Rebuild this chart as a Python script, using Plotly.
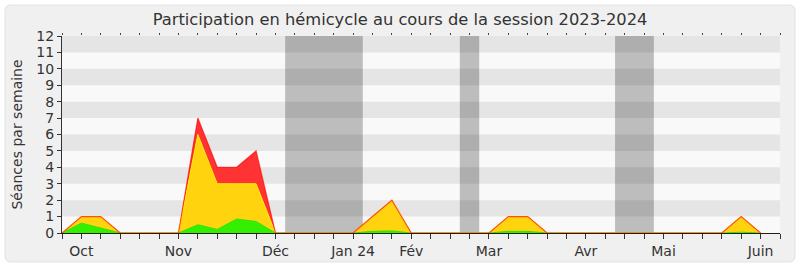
import plotly.graph_objects as go

weeks = list(range(37))
# stacked components per week
green = [0, 0.6, 0.3, 0, 0, 0, 0, 0.5, 0.22, 0.85, 0.7, 0,
         0, 0, 0, 0, 0.1, 0.13, 0, 0, 0, 0, 0, 0.1, 0.1, 0,
         0, 0, 0, 0, 0, 0, 0, 0, 0, 0.05, 0]
yellow_top = [0, 1, 1, 0, 0, 0, 0, 6, 3, 3, 3, 0,
              0, 0, 0, 0, 1, 2, 0, 0, 0, 0, 0, 1, 1, 0,
              0, 0, 0, 0, 0, 0, 0, 0, 0, 1, 0]
total = [0, 1, 1, 0, 0, 0, 0, 7, 4, 4, 5, 0,
         0, 0, 0, 0, 1, 2, 0, 0, 0, 0, 0, 1, 1, 0,
         0, 0, 0, 0, 0, 0, 0, 0, 0, 1, 0]
yellow = [t - g for t, g in zip(yellow_top, green)]
red = [t - y for t, y in zip(total, yellow_top)]

month_labels = {1: "Oct", 6: "Nov", 11: "Déc", 15: "Jan 24", 18: "Fév",
                22: "Mar", 27: "Avr", 31: "Mai", 36: "Juin"}
vacations = [(11.5, 15.5), (20.5, 21.5), (28.5, 30.5)]
y_max = 12
n_weeks = 37

fig = go.Figure()
fig.add_trace(go.Scatter(x=weeks, y=green, stackgroup="s", mode="lines",
                         line=dict(color="#2ee000", width=1), fillcolor="#33f000"))
fig.add_trace(go.Scatter(x=weeks, y=yellow, stackgroup="s", mode="lines",
                         line=dict(color="#ffee00", width=1), fillcolor="#ffd40f"))
fig.add_trace(go.Scatter(x=weeks, y=red, stackgroup="s", mode="lines",
                         line=dict(color="rgba(255,0,0,0.65)", width=1.2), fillcolor="#ff3333"))

shapes = []
# rounded panel
x0, x1, y0, y1 = -0.0794, 1.0209, -0.147, 1.157
rx, ry = 0.008, 0.03
path = (f"M {x0+rx},{y0} L {x1-rx},{y0} Q {x1},{y0} {x1},{y0+ry} "
        f"L {x1},{y1-ry} Q {x1},{y1} {x1-rx},{y1} L {x0+rx},{y1} "
        f"Q {x0},{y1} {x0},{y1-ry} L {x0},{y0+ry} Q {x0},{y0} {x0+rx},{y0} Z")
shapes.append(dict(type="path", xref="paper", yref="paper", path=path,
                   fillcolor="#f0f0f0", line=dict(color="#e2e2e2", width=1), layer="below"))
# plot background
shapes.append(dict(type="rect", xref="paper", yref="paper", x0=0, x1=1, y0=0, y1=1,
                   fillcolor="#f9f9f9", line=dict(width=0), layer="below"))
for k in range(1, y_max, 2):
    shapes.append(dict(type="rect", xref="paper", yref="y", x0=0, x1=1, y0=k, y1=k + 1,
                       fillcolor="#e5e5e5", line=dict(width=0), layer="below"))
for a, b in vacations:
    shapes.append(dict(type="rect", xref="x", yref="paper", x0=a, x1=b, y0=0, y1=1,
                       fillcolor="rgba(0,0,0,0.24)", line=dict(width=0), layer="below"))

ticktext = [month_labels.get(i, "") for i in range(n_weeks + 1)]
fig.update_layout(
    width=800, height=267,
    margin=dict(l=62, r=20, t=36, b=34, autoexpand=False),
    paper_bgcolor="white", plot_bgcolor="rgba(0,0,0,0)",
    showlegend=False,
    font=dict(family="DejaVu Sans", size=14, color="#333"),
    title=dict(text="Participation en hémicycle au cours de la session 2023-2024",
               x=0.5, xanchor="center", y=0.926, yanchor="middle",
               font=dict(size=16.3, color="#333")),
    shapes=shapes,
    xaxis=dict(range=[0, n_weeks], tickmode="array", tickvals=list(range(n_weeks + 1)),
               ticktext=ticktext, ticks="outside", ticklen=5, tickcolor="#333",
               showline=True, linecolor="#2a1a10", linewidth=1, showgrid=False,
               zeroline=False, tickfont=dict(size=14), automargin=False),
    xaxis2=dict(range=[0, n_weeks], overlaying="x", side="top", tickmode="array",
                tickvals=list(range(n_weeks + 1)), ticktext=[""] * (n_weeks + 1),
                ticks="outside", ticklen=2, tickcolor="#444", showgrid=False,
                showline=False, zeroline=False, automargin=False),
    yaxis=dict(range=[0, y_max], tickmode="array", tickvals=list(range(y_max + 1)),
               ticks="outside", ticklen=4, tickcolor="#333", showline=True,
               linecolor="#333", linewidth=1, showgrid=False, zeroline=False,
               title=dict(text="Séances par semaine", font=dict(size=14), standoff=10),
               tickfont=dict(size=14), automargin=False),
)
fig.add_trace(go.Scatter(x=[0], y=[0], xaxis="x2", mode="markers",
                         marker=dict(opacity=0), hoverinfo="skip"))
fig.write_html("out.html")
